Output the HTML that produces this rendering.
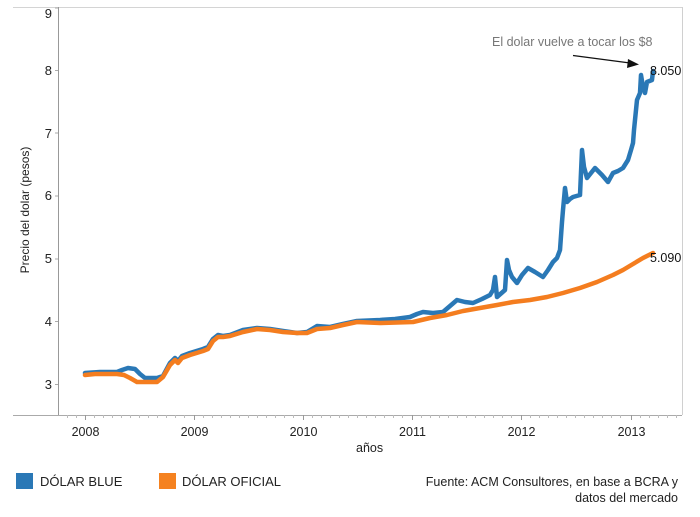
<!DOCTYPE html>
<html><head><meta charset="utf-8"><style>
html,body{margin:0;padding:0;background:#fff;}
svg{display:block;font-family:"Liberation Sans",Arial,sans-serif;}
</style></head><body>
<svg width="700" height="517" viewBox="0 0 700 517" xmlns="http://www.w3.org/2000/svg">
<rect width="700" height="517" fill="#fff"/>
<!-- frame -->
<line x1="13" y1="7.5" x2="682" y2="7.5" stroke="#d4d4d4" stroke-width="1"/>
<line x1="682.5" y1="7" x2="682.5" y2="415" stroke="#d0d0d0" stroke-width="1"/>
<line x1="58.5" y1="7" x2="58.5" y2="415" stroke="#999" stroke-width="1"/>
<line x1="13" y1="415.5" x2="682" y2="415.5" stroke="#aaa" stroke-width="1"/>
<!-- y ticks -->
<g stroke="#aaa" stroke-width="1">
<line x1="55" y1="8" x2="58" y2="8"/>
<line x1="55" y1="70.5" x2="58" y2="70.5"/>
<line x1="55" y1="133" x2="58" y2="133"/>
<line x1="55" y1="196" x2="58" y2="196"/>
<line x1="55" y1="259" x2="58" y2="259"/>
<line x1="55" y1="321.5" x2="58" y2="321.5"/>
<line x1="55" y1="384.5" x2="58" y2="384.5"/>
</g>
<g font-size="13" fill="#222" text-anchor="end">
<text x="52" y="18">9</text>
<text x="52" y="75">8</text>
<text x="52" y="138">7</text>
<text x="52" y="200">6</text>
<text x="52" y="263">5</text>
<text x="52" y="326">4</text>
<text x="52" y="389">3</text>
</g>
<text transform="translate(29,210) rotate(-90)" font-size="12" fill="#222" text-anchor="middle">Precio del dolar (pesos)</text>
<!-- x ticks -->
<g stroke="#bbb" stroke-width="1">
<line x1="67.5" y1="415" x2="67.5" y2="418"/><line x1="76.5" y1="415" x2="76.5" y2="418"/>
<line x1="94.5" y1="415" x2="94.5" y2="418"/><line x1="103.5" y1="415" x2="103.5" y2="418"/><line x1="112.5" y1="415" x2="112.5" y2="418"/><line x1="121.5" y1="415" x2="121.5" y2="418"/><line x1="130.5" y1="415" x2="130.5" y2="418"/><line x1="139.5" y1="415" x2="139.5" y2="418"/><line x1="148.5" y1="415" x2="148.5" y2="418"/><line x1="157.5" y1="415" x2="157.5" y2="418"/><line x1="166.5" y1="415" x2="166.5" y2="418"/><line x1="175.5" y1="415" x2="175.5" y2="418"/><line x1="184.5" y1="415" x2="184.5" y2="418"/>
<line x1="203.5" y1="415" x2="203.5" y2="418"/><line x1="212.5" y1="415" x2="212.5" y2="418"/><line x1="221.5" y1="415" x2="221.5" y2="418"/><line x1="230.5" y1="415" x2="230.5" y2="418"/><line x1="239.5" y1="415" x2="239.5" y2="418"/><line x1="248.5" y1="415" x2="248.5" y2="418"/><line x1="257.5" y1="415" x2="257.5" y2="418"/><line x1="266.5" y1="415" x2="266.5" y2="418"/><line x1="275.5" y1="415" x2="275.5" y2="418"/><line x1="284.5" y1="415" x2="284.5" y2="418"/><line x1="293.5" y1="415" x2="293.5" y2="418"/>
<line x1="312.5" y1="415" x2="312.5" y2="418"/><line x1="321.5" y1="415" x2="321.5" y2="418"/><line x1="330.5" y1="415" x2="330.5" y2="418"/><line x1="339.5" y1="415" x2="339.5" y2="418"/><line x1="348.5" y1="415" x2="348.5" y2="418"/><line x1="357.5" y1="415" x2="357.5" y2="418"/><line x1="366.5" y1="415" x2="366.5" y2="418"/><line x1="375.5" y1="415" x2="375.5" y2="418"/><line x1="384.5" y1="415" x2="384.5" y2="418"/><line x1="393.5" y1="415" x2="393.5" y2="418"/><line x1="402.5" y1="415" x2="402.5" y2="418"/>
<line x1="421.5" y1="415" x2="421.5" y2="418"/><line x1="430.5" y1="415" x2="430.5" y2="418"/><line x1="439.5" y1="415" x2="439.5" y2="418"/><line x1="448.5" y1="415" x2="448.5" y2="418"/><line x1="457.5" y1="415" x2="457.5" y2="418"/><line x1="466.5" y1="415" x2="466.5" y2="418"/><line x1="475.5" y1="415" x2="475.5" y2="418"/><line x1="484.5" y1="415" x2="484.5" y2="418"/><line x1="493.5" y1="415" x2="493.5" y2="418"/><line x1="502.5" y1="415" x2="502.5" y2="418"/><line x1="511.5" y1="415" x2="511.5" y2="418"/>
<line x1="530.5" y1="415" x2="530.5" y2="418"/><line x1="539.5" y1="415" x2="539.5" y2="418"/><line x1="548.5" y1="415" x2="548.5" y2="418"/><line x1="557.5" y1="415" x2="557.5" y2="418"/><line x1="566.5" y1="415" x2="566.5" y2="418"/><line x1="575.5" y1="415" x2="575.5" y2="418"/><line x1="584.5" y1="415" x2="584.5" y2="418"/><line x1="593.5" y1="415" x2="593.5" y2="418"/><line x1="602.5" y1="415" x2="602.5" y2="418"/><line x1="611.5" y1="415" x2="611.5" y2="418"/><line x1="620.5" y1="415" x2="620.5" y2="418"/>
<line x1="640.5" y1="415" x2="640.5" y2="418"/><line x1="649.5" y1="415" x2="649.5" y2="418"/><line x1="658.5" y1="415" x2="658.5" y2="418"/><line x1="667.5" y1="415" x2="667.5" y2="418"/><line x1="676.5" y1="415" x2="676.5" y2="418"/>
</g>
<g stroke="#999" stroke-width="1">
<line x1="85.5" y1="415" x2="85.5" y2="420"/>
<line x1="194.5" y1="415" x2="194.5" y2="420"/>
<line x1="303.5" y1="415" x2="303.5" y2="420"/>
<line x1="412.5" y1="415" x2="412.5" y2="420"/>
<line x1="521.5" y1="415" x2="521.5" y2="420"/>
<line x1="631.5" y1="415" x2="631.5" y2="420"/>
</g>
<g font-size="12.5" fill="#222" text-anchor="middle">
<text x="85.5" y="436">2008</text>
<text x="194.5" y="436">2009</text>
<text x="303.5" y="436">2010</text>
<text x="412.5" y="436">2011</text>
<text x="521.5" y="436">2012</text>
<text x="631.5" y="436">2013</text>
</g>
<text x="356" y="452" font-size="12.5" fill="#222">años</text>
<!-- series -->
<polyline fill="none" stroke="#2a78b6" stroke-width="4.5" stroke-linejoin="round" stroke-linecap="round" points="85,373 100,372 117,372 122,370 128,368 135,369 140,374 145,378 157,378 163,376 170,363 175,358 178,361 182,356 190,353 203,349 208,347 213,339 218,335 223,336 230,335 243,330 257,328 270,329 283,331 297,333 307,332 317,326 330,327 343,324 357,321 380,320 395,319 410,317 417,314 423,312 433,313 443,312 450,306 457,300 465,302 473,303 482,299 490,295 493,290 495,277 497,297 505,290 507,260 509,270 512,277 517,283 522,275 528,268 535,272 543,277 548,270 553,262 557,258 560,250 562,222 563,210 565,188 567,202 570,199 573,197 580,195 582,150 584,167 587,178 595,168 602,175 608,182 613,173 618,171 623,168 628,160 631,150 633,143 634,130 636,110 637,100 640,93 641,75 643,87 645,93 647,82 652,80 653,71"/>
<polyline fill="none" stroke="#f47d1f" stroke-width="4.5" stroke-linejoin="round" stroke-linecap="round" points="85,375 95,374 105,374 117,374 124,375 130,378 137,382 147,382 157,382 163,377 170,365 175,360 178,363 182,358 190,355 203,351 208,349 213,341 218,337 223,337 230,336 243,332 257,329 270,330 283,332 297,333 307,333 317,329 330,328 343,325 357,322 380,323 413,322 430,318 447,315 463,311 480,308 497,305 513,302 530,300 547,297 563,293 580,288 597,282 613,275 623,270 633,264 643,258 653,253"/>
<!-- annotation -->
<text x="492" y="46" font-size="12.5" fill="#777">El dolar vuelve a tocar los $8</text>
<line x1="573" y1="55.5" x2="630" y2="63" stroke="#111" stroke-width="1.3"/>
<polygon points="639,64.5 628,59 627,68" fill="#111"/>
<text x="650" y="75" font-size="12.5" fill="#111">8.050</text>
<text x="650" y="262" font-size="12.5" fill="#111">5.090</text>
<!-- legend -->
<rect x="16" y="473" width="17" height="16" fill="#2a78b6"/>
<text x="40" y="486" font-size="13" fill="#222">DÓLAR BLUE</text>
<rect x="159" y="473" width="17" height="16" fill="#f58220"/>
<text x="182" y="486" font-size="13" fill="#222">DÓLAR OFICIAL</text>
<g font-size="12.5" fill="#222" text-anchor="end">
<text x="678" y="486">Fuente: ACM Consultores, en base a BCRA y</text>
<text x="678" y="502">datos del mercado</text>
</g>
</svg>
</body></html>
